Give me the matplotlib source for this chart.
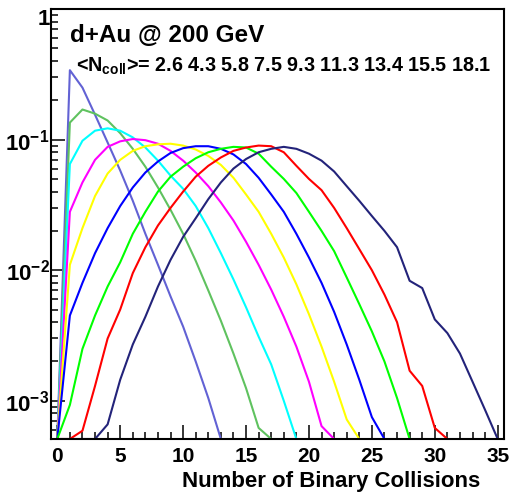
import numpy as np
import matplotlib
matplotlib.use("Agg")
import matplotlib.pyplot as plt
from matplotlib.ticker import FixedLocator, LogLocator, MultipleLocator, FuncFormatter, NullFormatter

# Binary-collision multiplicity distributions for d+Au at 200 GeV,
# one per centrality class, bin values at N = 0, 1, 2, ...
ncoll_means = ["2.6", "4.3", "5.8", "7.5", "9.3", "11.3", "13.4", "15.5", "18.1"]

p_2_6 = [0, 0.34, 0.25, 0.155, 0.095, 0.058, 0.034, 0.019, 0.011, 0.0063,
         0.0037, 0.0020, 0.00105, 0]
p_4_3 = [0, 0.135, 0.17, 0.158, 0.14, 0.112, 0.085, 0.062, 0.043, 0.029,
         0.019, 0.0118, 0.0070, 0.0041, 0.0023, 0.00125, 0.00062, 0]
p_5_8 = [0, 0.065, 0.098, 0.117, 0.122, 0.117, 0.104, 0.087, 0.069, 0.053,
         0.042, 0.031, 0.021, 0.0135, 0.0085, 0.0052, 0.0031, 0.0019, 0.0010, 0]
p_7_5 = [0, 0.028, 0.047, 0.07, 0.088, 0.097, 0.101, 0.099, 0.093, 0.082,
         0.069, 0.056, 0.044, 0.033, 0.024, 0.0165, 0.011, 0.0071, 0.0044, 0.0026,
         0.0014, 0.00064, 0]
p_9_3 = [0, 0.011, 0.021, 0.037, 0.055, 0.070, 0.082, 0.089, 0.092, 0.093,
         0.090, 0.084, 0.075, 0.064, 0.051, 0.038, 0.028, 0.019, 0.0125, 0.0078,
         0.0046, 0.0026, 0.0014, 0.00072, 0]
p_11_3 = [0, 0.0045, 0.0080, 0.0135, 0.021, 0.031, 0.043, 0.056, 0.068, 0.079,
          0.086, 0.089, 0.089, 0.085, 0.077, 0.065, 0.051, 0.038, 0.028, 0.019,
          0.0125, 0.0080, 0.0048, 0.0027, 0.00145, 0.00075, 0]
p_13_4 = [0, 0.00093, 0.0025, 0.0045, 0.0075, 0.0115, 0.019, 0.028, 0.040, 0.052,
          0.062, 0.072, 0.080, 0.085, 0.088, 0.087, 0.078, 0.062, 0.050, 0.039,
          0.028, 0.020, 0.014, 0.0088, 0.0055, 0.0034, 0.0020, 0.00105, 0]
p_15_5 = [0, 0, 0.00059, 0.0013, 0.0030, 0.0050, 0.0095, 0.015, 0.022, 0.030,
          0.040, 0.052, 0.063, 0.073, 0.082, 0.087, 0.090, 0.089, 0.080, 0.063,
          0.050, 0.041, 0.030, 0.021, 0.0145, 0.0100, 0.0065, 0.0040, 0.0017, 0.0013,
          0.00062, 0]
p_18_1 = [0, 0, 0, 0, 0.00066, 0.00145, 0.0027, 0.0044, 0.0075, 0.0120,
          0.0180, 0.025, 0.035, 0.047, 0.060, 0.071, 0.080, 0.085, 0.088, 0.085,
          0.078, 0.069, 0.057, 0.044, 0.034, 0.026, 0.020, 0.015, 0.0083, 0.0073,
          0.0042, 0.0033, 0.0023, 0.0014, 0.00085, 0]

series = [p_2_6, p_4_3, p_5_8, p_7_5, p_9_3, p_11_3, p_13_4, p_15_5, p_18_1]
colors = ["#6262d4", "#5fc25f", "#00ffff", "#ff00ff", "#ffff00",
          "#0000ff", "#00ff00", "#ff0000", "#23237a"]

x_ticks = [0, 5, 10, 15, 20, 25, 30, 35]
y_ticks = [1e-3, 1e-2, 1e-1, 1]

Y_MIN, Y_MAX = 5.1e-4, 1.0
X_MIN, X_MAX = -0.5, 35.5

plt.rcParams["font.family"] = ["Liberation Sans", "DejaVu Sans"]
plt.rcParams["font.weight"] = "bold"
plt.rcParams["mathtext.fontset"] = "custom"
plt.rcParams["mathtext.rm"] = "Liberation Sans:bold"
plt.rcParams["mathtext.bf"] = "Liberation Sans:bold"
plt.rcParams["mathtext.it"] = "Liberation Sans:bold"
plt.rcParams["mathtext.default"] = "bf"

fig = plt.figure(figsize=(5.26, 4.96), dpi=100)
ax = fig.add_axes([51 / 526, 1 - 439 / 496, (504 - 51) / 526, (439 - 9) / 496])

for vals, col in zip(series, colors):
    v = np.asarray(vals, dtype=float)
    n = np.arange(len(v))
    # empty bins sit on the lower frame edge of the log axis
    ax.plot(n, np.where(v > 0, v, Y_MIN), color=col, lw=1.5, clip_on=True)

ax.set_yscale("log")
ax.set_xlim(X_MIN, X_MAX)
ax.set_ylim(Y_MIN, Y_MAX)

ax.xaxis.set_major_locator(FixedLocator(x_ticks))
ax.xaxis.set_minor_locator(MultipleLocator(1))
ax.yaxis.set_major_locator(FixedLocator(y_ticks))
ax.yaxis.set_minor_locator(LogLocator(base=10, subs=np.arange(2, 10)))
ax.yaxis.set_minor_formatter(NullFormatter())


def ylab(v, pos):
    e = int(round(np.log10(v)))
    return "1" if e == 0 else r"$10^{%d}$" % e


ax.yaxis.set_major_formatter(FuncFormatter(ylab))

ax.tick_params(axis="both", which="both", direction="in", top=False, right=False,
               width=1.1, colors="black")
ax.tick_params(axis="x", which="major", length=10, pad=6, labelsize=15)
ax.tick_params(axis="x", which="minor", length=5)
ax.tick_params(axis="y", which="major", length=10, pad=1, labelsize=16)
ax.tick_params(axis="y", which="minor", length=5)
for sp in ax.spines.values():
    sp.set_linewidth(1.5)

# keep the top "1" label inside the frame height
fig.canvas.draw()
for lab in ax.get_yticklabels():
    if lab.get_text() == "1":
        lab.set_va("top")

fig.text(70 / 526, 1 - 42 / 496, "d+Au @ 200 GeV", fontsize=17.5, fontweight="bold",
         ha="left", va="baseline")
fig.text(76 / 526, 1 - 72 / 496,
         r"<$N_{coll}$>= " + " ".join(ncoll_means),
         fontsize=14.2, fontweight="bold", ha="left", va="baseline")
fig.text(480 / 526, 1 - 487 / 496, "Number of Binary Collisions", fontsize=16,
         fontweight="bold", ha="right", va="baseline")

fig.savefig("out.png", dpi=100)
